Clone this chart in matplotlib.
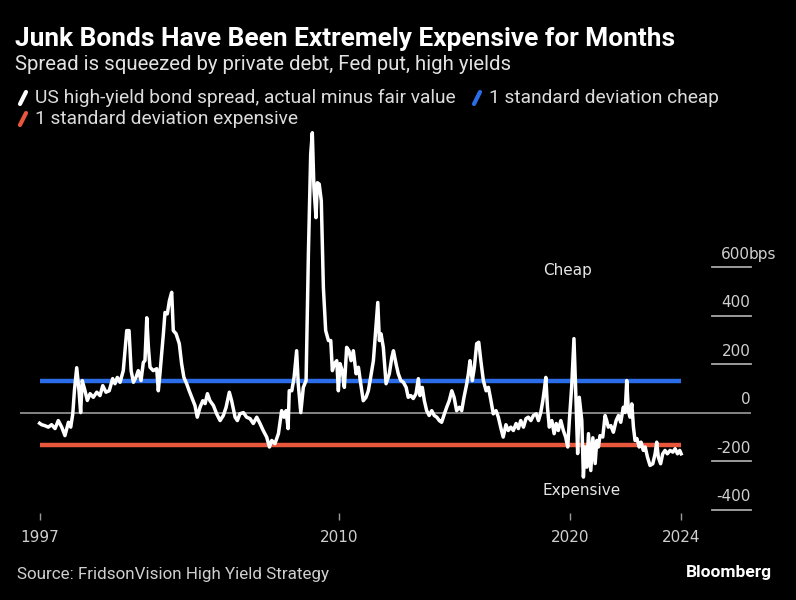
import matplotlib.pyplot as plt
from matplotlib.lines import Line2D

# US high-yield bond spread, actual minus fair value (bps)
years = [
    1997.00, 1997.09, 1997.23, 1997.38, 1997.52, 1997.67, 1997.81, 1997.96, 1998.10, 1998.25, 1998.35, 1998.44, 1998.51, 1998.61, 1998.71, 1998.78, 1998.85, 1998.97,
    1999.07, 1999.19, 1999.33, 1999.48, 1999.62, 1999.74, 1999.88, 2000.02, 2000.17, 2000.27, 2000.37, 2000.49, 2000.63, 2000.78, 2000.88, 2000.97,
    2001.07, 2001.18, 2001.28, 2001.40, 2001.50, 2001.57, 2001.65, 2001.72, 2001.79, 2001.93, 2002.08, 2002.15, 2002.22, 2002.37, 2002.44, 2002.54, 2002.63, 2002.73, 2002.80, 2002.92,
    2003.06, 2003.16, 2003.26, 2003.38, 2003.49, 2003.60, 2003.74, 2003.84, 2003.96, 2004.08, 2004.18, 2004.28, 2004.39, 2004.54, 2004.68, 2004.83, 2004.97,
    2005.09, 2005.23, 2005.33, 2005.48, 2005.58, 2005.69, 2005.84, 2005.98, 2006.13, 2006.27, 2006.42, 2006.56, 2006.70, 2006.85, 2006.97,
    2007.07, 2007.21, 2007.36, 2007.50, 2007.60, 2007.69, 2007.78, 2007.83, 2007.94, 2008.04, 2008.15, 2008.22, 2008.33, 2008.44, 2008.56, 2008.66, 2008.76, 2008.83, 2008.90, 2008.99,
    2009.05, 2009.13, 2009.22, 2009.31, 2009.41, 2009.53, 2009.63, 2009.70, 2009.79, 2009.89, 2009.96, 2010.03, 2010.13, 2010.22, 2010.32, 2010.42, 2010.51, 2010.61, 2010.73, 2010.83, 2010.93,
    2011.04, 2011.16, 2011.26, 2011.36, 2011.48, 2011.59, 2011.67, 2011.74, 2011.81, 2011.91, 2012.03, 2012.17, 2012.28, 2012.35, 2012.46, 2012.56, 2012.67, 2012.78, 2012.90, 2012.99,
    2013.10, 2013.21, 2013.33, 2013.43, 2013.50, 2013.60, 2013.69, 2013.79, 2013.90, 2014.01, 2014.12, 2014.23, 2014.34, 2014.44, 2014.56, 2014.66, 2014.77, 2014.88, 2014.98,
    2015.09, 2015.21, 2015.31, 2015.41, 2015.53, 2015.60, 2015.67, 2015.77, 2015.86, 2015.96, 2016.05, 2016.14, 2016.25, 2016.37, 2016.47, 2016.58, 2016.68, 2016.80, 2016.90,
    2017.00, 2017.11, 2017.23, 2017.33, 2017.44, 2017.55, 2017.67, 2017.77, 2017.87, 2017.99, 2018.10, 2018.20, 2018.31, 2018.42, 2018.54, 2018.64, 2018.74, 2018.83, 2018.90, 2018.96,
    2019.03, 2019.11, 2019.22, 2019.32, 2019.41, 2019.50, 2019.61, 2019.72, 2019.82, 2019.91, 2019.98, 2020.08, 2020.18, 2020.27, 2020.34, 2020.41, 2020.52, 2020.59, 2020.66, 2020.74, 2020.81, 2020.91,
    2021.00, 2021.10, 2021.17, 2021.24, 2021.31, 2021.43, 2021.53, 2021.60, 2021.67, 2021.78, 2021.89, 2022.01, 2022.11, 2022.21, 2022.32, 2022.40, 2022.47, 2022.54, 2022.61, 2022.69, 2022.76, 2022.83, 2022.91,
    2023.01, 2023.09, 2023.19, 2023.27, 2023.37, 2023.48, 2023.60, 2023.70, 2023.77, 2023.84, 2023.94, 2024.03, 2024.13, 2024.23, 2024.35, 2024.47, 2024.57, 2024.67, 2024.77, 2024.83,
]
spread = [
    -44, -50, -54, -60, -50, -66, -33, -60, -95, -40, -60, -5, 90, 185, 90, 0, 132, 90,
    50, 78, 63, 84, 70, 111, 84, 90, 140, 119, 145, 125, 173, 338, 338, 173,
    125, 145, 173, 132, 207, 214, 391, 269, 187, 173, 181, 90, 160, 325, 413, 407, 461, 496, 338, 325,
    284, 202, 145, 119, 90, 63, 29, -19, 22, 49, 37, 78, 49, 29, -5, -33, -12,
    22, 84, 49, -19, -33, -5, 0, -19, -25, -45, -19, -45, -74, -101, -142,
    -115, -128, -87, 8, -19, 8, -66, 90, 90, 145, 255, 119, 0, 104, 132, 654, 1066, 1154, 928, 804,
    948, 942, 873, 516, 338, 297, 297, 173, 202, 214, 90, 202, 173, 104, 269, 255, 214, 255, 160, 187, 119,
    49, 63, 90, 145, 214, 351, 454, 297, 325, 269, 119, 160, 228, 255, 202, 160, 132, 125, 104, 63,
    70, 58, 78, 140, 70, 104, 49, 8, -12, 8, -12, -19, -33, -40, -5, 22, 49, 90, 63,
    8, 22, 8, 63, 119, 160, 214, 132, 187, 284, 290, 214, 132, 90, 104, 49, -5, 8, -19,
    -60, -101, -50, -74, -60, -74, -45, -66, -33, -60, -25, -19, -33, -12, -5, -33, 0, 49, 98, 145,
    22, -60, -33, -87, -45, -74, -33, -74, -101, -142, -33, 104, 305, 49, -169, 63, -33, -266, -142, -225, -87, -239,
    -104, -210, -115, -142, -95, -101, -12, -33, -60, -54, -81, -33, -12, -40, 22, 0, 132, 8, -19, 36, -60, -115, -107,
    -142, -122, -156, -142, -184, -218, -211, -170, -122, -184, -211, -170, -156, -170, -156, -163, -149, -170, -156, -170,
]
cheap_level = 132
expensive_level = -132
y_ticks = [600, 400, 200, 0, -200, -400]
y_tick_labels = ["600", "400", "200", "0", "-200", "-400"]
x_ticks = [1997.0, 2010.0, 2020.0, 2024.83]
x_tick_labels = ["1997", "2010", "2020", "2024"]

W, H = 796, 600
BG = "black"
WHITE = "white"
BLUE = "#2b6de8"
ORANGE = "#e8573c"
GREY_TXT = "#cfcfcf"
SANS = "Roboto"


def fx(px):
    return px / W


def fy(py):
    return 1 - py / H


fig = plt.figure(figsize=(W / 100, H / 100), dpi=100, facecolor=BG)
ax = fig.add_axes([fx(20), fy(520), fx(751) - fx(20), fy(125) - fy(520)], facecolor=BG)
ax.set_xlim(1996.15, 2027.86)
ax.set_ylim(-443, 1186)

# zero line and the +/- 1 std dev bands
ax.axhline(0, color="#9a9a9a", lw=1.2, zorder=1)
ax.hlines([cheap_level], years[0], years[-1], color=BLUE, lw=3.2, zorder=2)
ax.hlines([expensive_level], years[0], years[-1], color=ORANGE, lw=3.2, zorder=2)
ax.plot(years, spread, color=WHITE, lw=2.5, zorder=3, solid_joinstyle="round")

# right-hand value labels sitting on short tick lines
yt = ax.get_yaxis_transform()
for v, lab in zip(y_ticks, y_tick_labels):
    if v != 0:
        ax.plot([0.9466, 1.0], [v, v], color="#a8a8a8", lw=1.3, transform=yt, clip_on=False)
    ax.annotate(lab, xy=(0.999, v), xycoords=yt, xytext=(0, 4), textcoords="offset points",
                ha="right", va="bottom", color=GREY_TXT, fontsize=11, family="DejaVu Sans")
# unit hangs past the top label
ax.annotate("bps", xy=(0.999, y_ticks[0]), xycoords=yt, xytext=(-1.5, 4), textcoords="offset points",
            ha="left", va="bottom", color=GREY_TXT, fontsize=11, family="DejaVu Sans",
            annotation_clip=False)

ax.text(2019.92, 588, "Cheap", color="#e6e6e6", fontsize=11, ha="center", va="center")
ax.text(2020.53, -320, "Expensive", color="#e6e6e6", fontsize=11, ha="center", va="center")

ax.set_xticks(x_ticks)
ax.set_xticklabels(x_tick_labels)
ax.tick_params(axis="x", direction="in", length=5, width=1, color="#9a9a9a",
               labelcolor=GREY_TXT, labelsize=11, pad=7)
ax.set_yticks([])
for s in ax.spines.values():
    s.set_visible(False)

# header
fig.text(fx(15), fy(39), "Junk Bonds Have Been Extremely Expensive for Months", color=WHITE,
         fontsize=18.9, fontweight="bold", family=SANS, va="center")
fig.text(fx(15), fy(64), "Spread is squeezed by private debt, Fed put, high yields", color="#e2e2e2",
         fontsize=14.65, family=SANS, va="center")

# legend with slanted swatches
legend_items = [
    (19, 98, WHITE, "US high-yield bond spread, actual minus fair value"),
    (473, 98, BLUE, "1 standard deviation cheap"),
    (19, 119, ORANGE, "1 standard deviation expensive"),
]
for x0, yc, col, lab in legend_items:
    fig.add_artist(Line2D([fx(x0 + 1), fx(x0 + 7)], [fy(yc + 6), fy(yc - 6)], color=col, lw=3,
                          solid_capstyle="round", transform=fig.transFigure))
    fig.text(fx(x0 + 16), fy(yc), lab, color="#dcdcdc", fontsize=13.75, family=SANS, va="center")

# footer
fig.text(fx(17), fy(575), "Source: FridsonVision High Yield Strategy", color="#cfcfcf",
         fontsize=12.25, family=SANS, va="center")
fig.text(fx(772), fy(573), "Bloomberg", color=WHITE, fontsize=12.5, fontweight="bold",
         family=SANS, ha="right", va="center")

fig.savefig("out.png", dpi=100, facecolor=BG)
